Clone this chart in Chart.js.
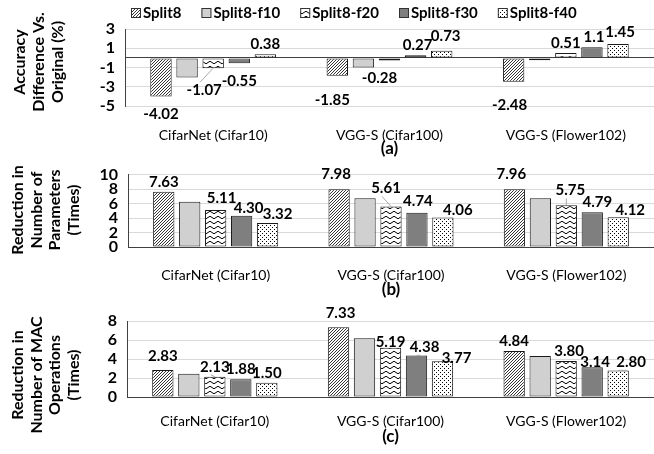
<!DOCTYPE html>
<html lang="en">
<head>
<meta charset="UTF-8" />
<title>Split8 comparison</title>
<script src="https://cdn.jsdelivr.net/npm/chart.js@4/dist/chart.umd.min.js"></script>
<style>
  html, body { margin: 0; padding: 0; background: #fff; overflow: hidden; }
  .box { position: absolute; left: 0; width: 654px; }
  #boxA { top: 0; height: 159px; }
  #boxB { top: 155px; height: 145px; }
  #boxC { top: 300px; height: 154px; }
</style>
</head>
<body>
<div class="box" id="boxA"><canvas id="chartA"></canvas></div>
<div class="box" id="boxB"><canvas id="chartB"></canvas></div>
<div class="box" id="boxC"><canvas id="chartC"></canvas></div>

<script>
var categories = ["CifarNet (Cifar10)", "VGG-S (Cifar100)", "VGG-S (Flower102)"];
var seriesNames = ["Split8", "Split8-f10", "Split8-f20", "Split8-f30", "Split8-f40"];

// (a) accuracy difference vs original (%)
var accSplit8 = [-4.02, -1.85, -2.48];
var accF10 = [-2.05, -1.0, -0.25];
var accF20 = [-1.07, -0.28, 0.51];
var accF30 = [-0.55, 0.27, 1.1];
var accF40 = [0.38, 0.73, 1.45];
var accTicks = [-5, -3, -1, 1, 3];

// (b) reduction in number of parameters (times)
var parSplit8 = [7.63, 7.98, 7.96];
var parF10 = [6.25, 6.74, 6.74];
var parF20 = [5.11, 5.61, 5.75];
var parF30 = [4.30, 4.74, 4.79];
var parF40 = [3.32, 4.06, 4.12];
var parTicks = [0, 2, 4, 6, 8, 10];

// (c) reduction in number of MAC operations (times)
var macSplit8 = [2.83, 7.33, 4.84];
var macF10 = [2.45, 6.19, 4.32];
var macF20 = [2.13, 5.19, 3.80];
var macF30 = [1.88, 4.38, 3.14];
var macF40 = [1.50, 3.77, 2.80];
var macTicks = [0, 2, 4, 6, 8];

Chart.defaults.font.family = "Lato";
Chart.defaults.color = "#000";

// fill patterns
function makeTile(w, h, draw) {
  var c = document.createElement("canvas");
  c.width = w; c.height = h;
  var g = c.getContext("2d");
  g.fillStyle = "#fff";
  g.fillRect(0, 0, w, h);
  draw(g);
  return g.createPattern(c, "repeat");
}
var hatch = makeTile(3, 3, function (g) {
  g.strokeStyle = "#000"; g.lineWidth = 0.8;
  g.beginPath();
  g.moveTo(0, 3); g.lineTo(3, 0);
  g.moveTo(-1, 1); g.lineTo(1, -1);
  g.moveTo(2, 4); g.lineTo(4, 2);
  g.stroke();
});
var wave = makeTile(8, 5, function (g) {
  g.strokeStyle = "#000"; g.lineWidth = 1;
  g.beginPath();
  g.moveTo(0, 2.5);
  g.quadraticCurveTo(2, 0, 4, 2.5);
  g.quadraticCurveTo(6, 5, 8, 2.5);
  g.stroke();
});
var dots = makeTile(4, 4, function (g) {
  g.fillStyle = "#000";
  g.fillRect(0, 0, 1, 1);
  g.fillRect(2, 2, 1, 1);
});
var fills = [hatch, "#d0d0d0", wave, "#7f7f7f", dots];

function makeDatasets(lists) {
  return lists.map(function (d, i) {
    return {
      label: seriesNames[i],
      data: d,
      backgroundColor: fills[i],
      borderColor: "#1a1a1a",
      borderWidth: 1,
      borderSkipped: false,
      barPercentage: 0.82,
      categoryPercentage: 0.74
    };
  });
}

// value labels above / below bars, f10 series has none
var valueLabels = {
  id: "valueLabels",
  afterDatasetsDraw: function (chart, args, opts) {
    var ctx = chart.ctx;
    ctx.save();
    ctx.font = "bold 15px Lato";
    ctx.textAlign = "center";
    ctx.textBaseline = "middle";
    chart.data.datasets.forEach(function (ds, i) {
      if (i === 1) return;
      var meta = chart.getDatasetMeta(i);
      meta.data.forEach(function (el, j) {
        var v = ds.data[j];
        var off = (opts.offsets[i] && opts.offsets[i][j]) || [0, 0];
        var x = el.x + off[0];
        var y = v >= 0 ? el.y - 10 + off[1] : el.y + 18 + off[1];
        if (off[2]) {
          // leader line from the bar end to the moved label
          ctx.strokeStyle = "#a6a6a6";
          ctx.lineWidth = 1;
          ctx.beginPath();
          ctx.moveTo(el.x, el.y);
          ctx.lineTo(x - 4, v >= 0 ? y + 8 : y - 8);
          ctx.stroke();
        }
        ctx.fillStyle = "#000";
        ctx.fillText(opts.fmt(v), x, y);
      });
    });
    ctx.restore();
  }
};

// rotated multi-line axis title
var sideTitle = {
  id: "sideTitle",
  afterDraw: function (chart, args, opts) {
    var ctx = chart.ctx;
    ctx.save();
    ctx.font = "bold 16px Lato";
    ctx.fillStyle = "#000";
    ctx.textAlign = "center";
    ctx.textBaseline = "middle";
    opts.lines.forEach(function (t, k) {
      ctx.save();
      ctx.translate(opts.x + k * opts.gap, opts.y);
      ctx.rotate(-Math.PI / 2);
      ctx.fillText(t, 0, 0);
      ctx.restore();
    });
    ctx.restore();
  }
};

// legend row across the top of chart (a)
var topLegend = {
  id: "topLegend",
  afterDraw: function (chart, args, opts) {
    if (!opts.show) return;
    var ctx = chart.ctx;
    ctx.save();
    ctx.font = "bold 15px Lato";
    ctx.textBaseline = "middle";
    var x = opts.x;
    chart.data.datasets.forEach(function (ds) {
      ctx.fillStyle = ds.backgroundColor;
      ctx.fillRect(x, opts.y - 5, 10, 10);
      ctx.strokeStyle = "#333";
      ctx.lineWidth = 1;
      ctx.strokeRect(x + 0.5, opts.y - 4.5, 9, 9);
      ctx.fillStyle = "#000";
      ctx.fillText(ds.label, x + 12, opts.y);
      x += 12 + ctx.measureText(ds.label).width + opts.gap;
    });
    ctx.restore();
  }
};

function makeChart(id, lists, ticks, o) {
  return new Chart(document.getElementById(id), {
    type: "bar",
    data: { labels: categories, datasets: makeDatasets(lists) },
    plugins: [valueLabels, sideTitle, topLegend],
    options: {
      responsive: true,
      maintainAspectRatio: false,
      animation: false,
      layout: { padding: { top: o.top, right: 0, left: 0, bottom: 0 } },
      plugins: {
        legend: { display: false },
        tooltip: { enabled: false },
        valueLabels: { fmt: o.fmt, offsets: o.offsets },
        sideTitle: { lines: o.title, x: o.titleX, y: o.titleY, gap: o.titleGap },
        topLegend: { show: !!o.legend, x: 131, y: 13, gap: 20 }
      },
      scales: {
        x: {
          grid: { display: false },
          border: { display: o.xBorder, color: "#404040", width: 1 },
          ticks: { padding: o.tickPad, font: { size: 14 } },
          title: { display: true, text: o.letter, font: { size: 17, weight: "bold" }, padding: { top: 0, bottom: o.letterPad } },
          afterFit: function (s) { s.height = o.xHeight; }
        },
        y: {
          min: ticks[0],
          max: ticks[ticks.length - 1],
          afterBuildTicks: function (s) {
            var t = ticks.map(function (v) { return { value: v }; });
            if (o.zeroLine) t.push({ value: 0 });
            s.ticks = t;
          },
          grid: {
            drawTicks: false,
            color: function (c) { return c.tick && c.tick.value === 0 ? "#404040" : "#d9d9d9"; }
          },
          border: { display: true, color: "#404040", width: 1 },
          ticks: {
            autoSkip: false,
            padding: 10,
            font: { size: 16, weight: "bold" },
            callback: function (v) { return o.zeroLine && v === 0 ? "" : v; }
          },
          afterFit: function (s) { s.width = o.yWidth; }
        }
      }
    }
  });
}

makeChart("chartA", [accSplit8, accF10, accF20, accF30, accF40], accTicks, {
  top: 29, yWidth: 125, xHeight: 53, tickPad: 13, letter: "(a)", letterPad: 0,
  xBorder: false, zeroLine: true, legend: true,
  title: ["Accuracy", "Difference Vs.", "Original (%)"], titleX: 20, titleY: 62, titleGap: 19,
  fmt: function (v) { return String(v); },
  offsets: [
    [[0, 0], [-5, 6], [-4, 5]],
    [],
    [[-9, 4, 1], [-10, 0], [0, 0]],
    [[0, 0], [2, 0], [2, 0]],
    [[0, 0], [4, -5], [2, -2]]
  ]
});

makeChart("chartB", [parSplit8, parF10, parF20, parF30, parF40], parTicks, {
  top: 18, yWidth: 128, xHeight: 53, tickPad: 12, letter: "(b)", letterPad: 0,
  xBorder: true, zeroLine: false,
  title: ["Reduction in", "Number of", "Parameters", "(Times)"], titleX: 18, titleY: 55, titleGap: 18.5,
  fmt: function (v) { return v.toFixed(2); },
  offsets: [
    [[0, 0], [-3, -5], [-3, -5]],
    [],
    [[6, -2], [-5, -8, 1], [4, -5, 1]],
    [[7, 2], [1, -2], [5, 0]],
    [[10, 1], [15, 3], [12, 3]]
  ]
});

makeChart("chartC", [macSplit8, macF10, macF20, macF30, macF40], macTicks, {
  top: 21, yWidth: 127, xHeight: 57, tickPad: 8, letter: "(c)", letterPad: 7,
  xBorder: true, zeroLine: false,
  title: ["Reduction in", "Number of MAC", "Operations", "(Times)"], titleX: 18, titleY: 75, titleGap: 18.5,
  fmt: function (v) { return v.toFixed(2); },
  offsets: [
    [[0, -4], [2, -4], [0, 0]],
    [],
    [[0, 0, 1], [0, 4], [3, 0]],
    [[0, 0], [8, 2, 1], [3, 5]],
    [[0, 0], [14, 7], [13, 2, 1]]
  ]
});
</script>
</body>
</html>
